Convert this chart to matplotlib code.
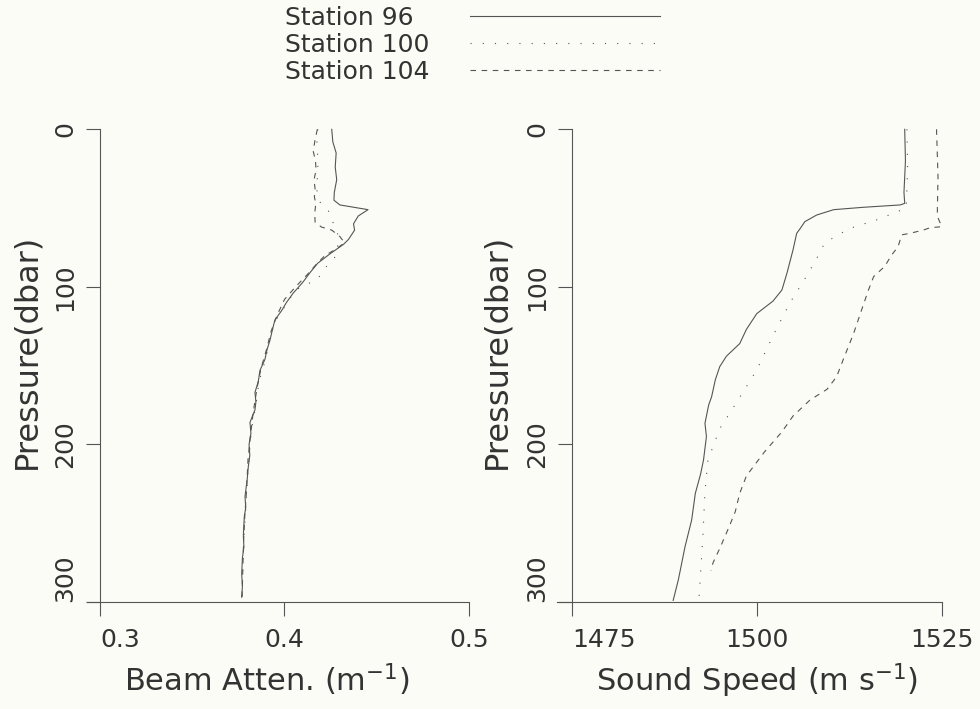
import numpy as np
import matplotlib
matplotlib.use('Agg')
from matplotlib import pyplot as plt

plt.rcParams['font.family'] = ['DejaVu Sans']

# --- beam attenuation profiles (m^-1) vs pressure (dbar)
p96_beam = [0, 8, 15, 24, 32, 40, 45, 48, 51, 55, 60, 64, 70, 73, 79, 85, 91, 97, 104, 110,
            115, 121, 127, 134, 140, 146, 153, 160, 167, 173, 178, 186, 193, 200, 207, 214,
            222, 233, 240, 246, 258, 265, 272, 282, 290, 297]
beam96 = [0.4256, 0.4262, 0.4280, 0.4275, 0.4283, 0.4270, 0.4268, 0.4300, 0.4453, 0.4400,
          0.4374, 0.4380, 0.4346, 0.4320, 0.4247, 0.4180, 0.4138, 0.4100, 0.4047, 0.4010,
          0.3985, 0.3948, 0.3935, 0.3921, 0.3905, 0.3894, 0.3867, 0.3858, 0.3840, 0.3845,
          0.3840, 0.3813, 0.3818, 0.3808, 0.3812, 0.3804, 0.3798, 0.3786, 0.3790, 0.3782,
          0.3777, 0.3780, 0.3772, 0.3768, 0.3772, 0.3768]

p100_beam = [0, 10, 20, 30, 40, 46, 51, 55, 61, 67, 74, 80, 88, 95, 102, 110, 120, 130, 145,
             160, 175, 190, 205, 220, 240, 260, 280, 297]
beam100 = [0.4180, 0.4175, 0.4182, 0.4178, 0.4176, 0.4190, 0.4236, 0.4247, 0.4270, 0.4290,
           0.4288, 0.4282, 0.4220, 0.4180, 0.4060, 0.4015, 0.3960, 0.3925, 0.3900, 0.3862,
           0.3845, 0.3822, 0.3810, 0.3800, 0.3790, 0.3780, 0.3773, 0.3770]

p104_beam = [0, 7, 14, 20, 26, 32, 38, 43, 47, 53, 59, 62, 64, 68, 72, 76, 80, 86, 92, 100,
             108, 118, 128, 140, 152, 165, 180, 195, 210, 228, 245, 262, 280, 297]
beam104 = [0.4178, 0.4165, 0.4156, 0.4168, 0.4171, 0.4160, 0.4166, 0.4162, 0.4170, 0.4164,
           0.4166, 0.4200, 0.4256, 0.4300, 0.4325, 0.4280, 0.4220, 0.4170, 0.4125, 0.4060,
           0.4000, 0.3960, 0.3928, 0.3902, 0.3872, 0.3850, 0.3830, 0.3815, 0.3802, 0.3795,
           0.3785, 0.3778, 0.3774, 0.3770]

# --- sound speed profiles (m/s) vs pressure (dbar)
p96_snd = [0, 20, 40, 47, 48, 49.5, 51, 54.4, 58.6, 62.8, 66, 76.6, 91, 102, 109, 117, 127,
           136, 144, 150.6, 159, 169.7, 175, 186.6, 195, 210, 219, 231, 248, 265, 286, 299]
snd96 = [1520.0, 1520.1, 1519.9, 1520.0, 1519.4, 1514.4, 1510.4, 1508.1, 1506.5, 1505.9,
         1505.4, 1504.9, 1504.1, 1503.4, 1502.2, 1500.0, 1498.6, 1497.7, 1495.9, 1495.0,
         1494.4, 1493.9, 1493.5, 1493.0, 1493.2, 1492.8, 1492.4, 1491.7, 1491.2, 1490.3,
         1489.4, 1488.7]

p100_snd = [0, 25, 50, 57.5, 63, 69, 72, 82, 95, 110, 130, 152.7, 171.7, 190, 210, 230, 260, 297]
snd100 = [1520.3, 1520.4, 1520.2, 1516.2, 1512.5, 1510.3, 1509.2, 1508.1, 1506.5, 1504.5,
          1502.3, 1500.0, 1497.5, 1495.0, 1493.4, 1493.0, 1492.7, 1492.2]

p104_snd = [0, 30, 55, 61.8, 62.5, 64, 66, 67, 74.5, 80, 87, 93.5, 102, 117, 129.5, 146, 157,
            165, 171.8, 182, 192, 205, 220, 231, 242.6, 253, 266, 275, 280]
snd104 = [1524.3, 1524.5, 1524.4, 1525.0, 1523.4, 1522.5, 1520.7, 1519.6, 1519.1, 1518.2,
          1517.3, 1515.8, 1515.1, 1514.0, 1513.1, 1511.7, 1510.8, 1509.5, 1507.2, 1504.9,
          1503.4, 1501.0, 1498.6, 1497.7, 1497.1, 1496.2, 1495.0, 1494.1, 1493.8]

stations = ['Station 96\u2007', 'Station 100', 'Station 104']
styles = ['-', (0, (1, 10)), (0, (5, 5))]

bg = '#fcfcf6'
ink = '#333333'
line_col = '#555555'

fig = plt.figure(figsize=(9.8, 7.09), dpi=100, facecolor=bg)
W, H = 980, 709
ax1 = fig.add_axes([86.7 / W, 107 / H, 382.3 / W, 472.7 / H])
ax2 = fig.add_axes([557 / W, 107 / H, 384.7 / W, 472.7 / H])


def style_axis(ax, xlim, yaxis_at, xticks, xlabel):
    ax.set_facecolor(bg)
    ax.set_xlim(*xlim)
    ax.set_ylim(300, 0)
    for s in ['top', 'right']:
        ax.spines[s].set_visible(False)
    ax.spines['left'].set_position(('data', yaxis_at))
    ax.spines['left'].set_bounds(0, 300)
    for s in ['left', 'bottom']:
        ax.spines[s].set_color(line_col)
        ax.spines[s].set_linewidth(0.8)
    ax.set_xticks(xticks)
    ax.set_yticks([0, 100, 200, 300])
    ax.tick_params(length=10, width=0.8, color=line_col,
                   labelsize=18, labelcolor=ink)
    ax.tick_params(axis='x', pad=8.5)
    ax.tick_params(axis='y', pad=6.5)
    plt.setp(ax.get_yticklabels(), rotation=90, va='center')
    # corner labels pushed away from the corner, as in the original
    ax.get_yticklabels()[-1].set_va('bottom')
    ax.get_xticklabels()[0].set_ha('left')
    ax.set_ylabel('Pressure(dbar)', fontsize=23, color=ink)
    ax.set_xlabel(xlabel, fontsize=22, color=ink)


lw = 0.8
for p, v, ls in zip([p96_beam, p100_beam, p104_beam], [beam96, beam100, beam104], styles):
    ax1.plot(v, p, color=line_col, lw=lw, linestyle=ls, clip_on=False)
for p, v, ls, lab in zip([p96_snd, p100_snd, p104_snd], [snd96, snd100, snd104], styles, stations):
    ax2.plot(v, p, color=line_col, lw=lw, linestyle=ls, clip_on=False, label=lab)

ax1.set_xticks([0.3, 0.4, 0.5])
ax1.set_xticklabels(['0.3', '0.4', '0.5'])
style_axis(ax1, (0.2928, 0.5), 0.3, [0.3, 0.4, 0.5], 'Beam Atten. (m$^{\\mathregular{-1}}$)')
style_axis(ax2, (1473.0, 1525), 1475, [1475, 1500, 1525], 'Sound Speed (m s$^{\\mathregular{-1}}$)')

ax1.yaxis.set_label_coords(-0.117, 0.53)
ax2.yaxis.set_label_coords(-0.117, 0.53)
ax1.xaxis.set_label_coords(0.47, -0.125)
ax2.xaxis.set_label_coords(0.52, -0.125)

handles, labels = ax2.get_legend_handles_labels()
fig.legend(handles, labels, loc='upper left', bbox_to_anchor=(285 / W, 1 - 6 / H),
           markerfirst=False, frameon=False, fontsize=18, labelcolor=ink,
           handlelength=7.6, handletextpad=1.6, labelspacing=0.12,
           borderpad=0, borderaxespad=0)

fig.savefig('out.png', dpi=100, facecolor=bg)
